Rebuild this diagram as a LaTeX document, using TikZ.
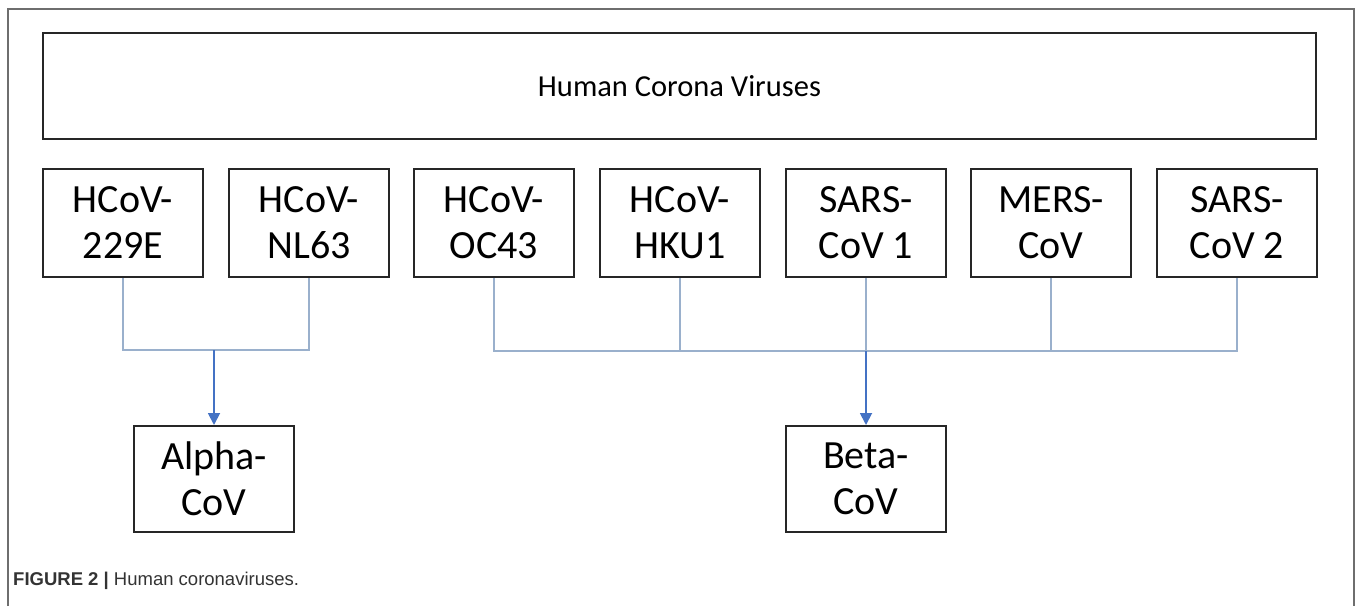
\documentclass[tikz,border=0pt]{standalone}
\usepackage{fontspec}
\setmainfont{Carlito}
\newfontfamily\capfont{Liberation Sans}
\usetikzlibrary{arrows.meta}
\definecolor{framegray}{HTML}{6E6E6E}
\definecolor{boxline}{HTML}{262626}
\definecolor{branch}{HTML}{9AB0CC}
\definecolor{stem}{HTML}{4472C4}
\definecolor{captext}{HTML}{333333}
\tikzset{
  vbox/.style={draw=boxline, line width=2pt, minimum width=160pt, minimum height=108pt,
    inner sep=0pt, align=center, font=\fontsize{40}{46}\selectfont},
  headbox/.style={vbox, minimum width=1273pt, minimum height=106pt,
    font=\fontsize{30.5}{36}\selectfont},
  branchline/.style={draw=branch, line width=1.2pt},
  stemline/.style={draw=stem, line width=1.8pt, -{Triangle[width=12pt,length=12pt]}},
}
\begin{document}
\begin{tikzpicture}[x=1pt,y=-1pt]
\useasboundingbox (0,0) rectangle (1357,606);
% outer frame, open at the bottom
\draw[framegray, line width=1.3pt] (8,606) -- (8,9) -- (1354,9) -- (1354,606);

% title box
\node[headbox] (head) at (679.5,86) {Human Corona Viruses};

% virus boxes
\node[vbox] (b1) at (123,223)  {HCoV-\\229E};
\node[vbox] (b2) at (309,223)  {HCoV-\\NL63};
\node[vbox] (b3) at (494,223)  {HCoV-\\OC43};
\node[vbox] (b4) at (680,223)  {HCoV-\\HKU1};
\node[vbox] (b5) at (866,223)  {SARS-\\CoV 1};
\node[vbox] (b6) at (1051,223) {MERS-\\CoV};
\node[vbox] (b7) at (1237,223) {SARS-\\CoV 2};

% genus boxes
\node[vbox, minimum height=106pt] (alpha) at (214,479) {Alpha-\\CoV};
\node[vbox, minimum height=106pt] (beta)  at (866,479) {Beta-\\CoV};

% junction points on the collecting bars
\coordinate (abar) at (214,350);
\coordinate (bbar) at (866,351);

% alpha branches
\draw[branchline] (b1.south) |- (abar);
\draw[branchline] (b2.south) |- (abar);
\draw[stemline] (abar) -- (alpha.north);

% beta branches
\draw[branchline] (b3.south) |- (bbar);
\draw[branchline] (b7.south) |- (bbar);
\draw[branchline] (b4.south) -- (b4.south |- bbar);
\draw[branchline] (b5.south) -- (bbar);
\draw[branchline] (b6.south) -- (b6.south |- bbar);
\draw[stemline] (bbar) -- (beta.north);

% caption
\node[anchor=base west, inner sep=0pt, text=captext, font=\capfont\fontsize{18.5}{22}\selectfont]
  (cap) at (13,585) {\textbf{FIGURE 2 |} Human coronaviruses.};
\end{tikzpicture}
\end{document}
